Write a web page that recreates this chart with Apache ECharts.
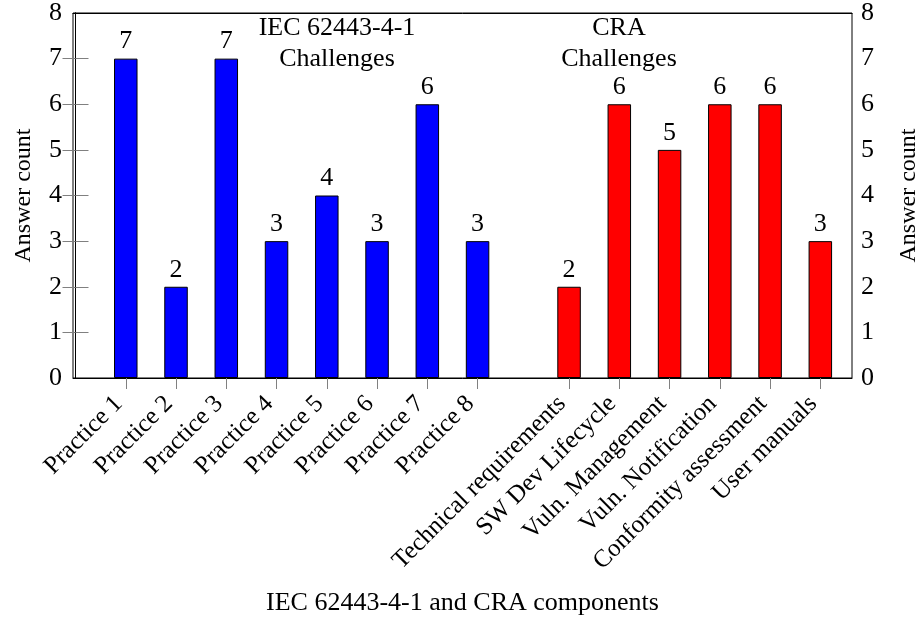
<!DOCTYPE html>
<html>
<head>
<meta charset="utf-8">
<script src="https://cdn.jsdelivr.net/npm/echarts@6/dist/echarts.min.js"></script>
<style>
html,body{margin:0;padding:0;background:#fff;}
#chart{width:915px;height:629px;}
</style>
</head>
<body>
<div id="chart"></div>
<script>
// ---- data ----
const iecCategories = ['Practice 1','Practice 2','Practice 3','Practice 4','Practice 5','Practice 6','Practice 7','Practice 8'];
const iecValues = [7, 2, 7, 3, 4, 3, 6, 3];
const craCategories = ['Technical requirements','SW Dev Lifecycle','Vuln. Management','Vuln. Notification','Conformity assessment','User manuals'];
const craValues = [2, 6, 5, 6, 6, 3];
const yTicks = [0, 1, 2, 3, 4, 5, 6, 7, 8];

// ---- layout (slot positions along a numeric x scale) ----
const groupGap = 1.82;
const iecPos = iecCategories.map((_, i) => i + 1);
const craPos = craCategories.map((_, i) => iecCategories.length + groupGap + i);
const allPos = iecPos.concat(craPos);
const allNames = iecCategories.concat(craCategories);

function nameAt(v) {
  let best = 0, bd = Infinity;
  allPos.forEach((p, i) => { const d = Math.abs(p - v); if (d < bd) { bd = d; best = i; } });
  return bd < 0.3 ? allNames[best] : '';
}

const FONT = '"Liberation Serif", "DejaVu Serif", serif';
const FS = 26;
const chart = echarts.init(document.getElementById('chart'), null, {renderer: 'canvas'});

const yAxisCommon = {
  type: 'value', min: yTicks[0], max: yTicks[yTicks.length - 1], interval: 1,
  splitLine: {show: false},
  axisLine: {show: true, lineStyle: {color: '#000', width: 1}},
  axisTick: {show: true, inside: true, length: 13, customValues: yTicks.slice(1, -1), lineStyle: {color: '#808080', width: 1}},
  axisLabel: {fontFamily: FONT, fontSize: FS, color: '#000', customValues: yTicks},
  name: 'Answer count', nameLocation: 'middle', nameRotate: 90,
  nameTextStyle: {fontFamily: FONT, fontSize: 24, color: '#000'}
};

chart.setOption({
  animation: false,
  backgroundColor: '#fff',
  grid: {left: 73, right: 63, top: 13, bottom: 251, show: true, borderColor: '#000', borderWidth: 1,
         containLabel: false, outerBoundsMode: 'none'},
  xAxis: [{
    type: 'value', min: -0.05, max: 15.45,
    splitLine: {show: false},
    axisLine: {show: true, onZero: false, lineStyle: {color: '#000', width: 1}},
    axisTick: {show: true, inside: false, length: 11, customValues: allPos, lineStyle: {color: '#808080', width: 1}},
    axisLabel: {
      customValues: allPos, rotate: 45, margin: 15, padding: [0, 10, 0, 0],
      fontFamily: FONT, fontSize: 25, color: '#000',
      formatter: v => nameAt(v)
    },
    name: 'IEC 62443-4-1 and CRA components', nameLocation: 'middle', nameGap: 212,
    nameTextStyle: {fontFamily: FONT, fontSize: FS, color: '#000'}
  }, {
    type: 'value', min: -0.05, max: 15.45, position: 'top',
    splitLine: {show: false},
    axisLine: {show: true, onZero: false, lineStyle: {color: '#000', width: 1}},
    axisTick: {show: false}, axisLabel: {show: false}
  }],
  yAxis: [
    Object.assign({}, yAxisCommon, {position: 'left', nameGap: 37, axisLabel: Object.assign({}, yAxisCommon.axisLabel, {margin: 11})}),
    Object.assign({}, yAxisCommon, {position: 'right', nameGap: 45, axisLabel: Object.assign({}, yAxisCommon.axisLabel, {margin: 9})})
  ],
  series: [
    {
      name: 'IEC 62443-4-1', type: 'bar', barWidth: 23.5, barGap: '-100%',
      data: iecValues.map((v, i) => [iecPos[i], v]),
      itemStyle: {color: '#0000ff', borderColor: '#000', borderWidth: 1},
      label: {show: true, position: 'top', distance: 4, fontFamily: FONT, fontSize: FS, color: '#000'}
    },
    {
      name: 'CRA', type: 'bar', barWidth: 23.5, barGap: '-100%',
      data: craValues.map((v, i) => [craPos[i], v]),
      itemStyle: {color: '#ff0000', borderColor: '#000', borderWidth: 1},
      label: {show: true, position: 'top', distance: 4, fontFamily: FONT, fontSize: FS, color: '#000'}
    }
  ],
  graphic: [
    {type: 'text', style: {text: 'IEC 62443-4-1\nChallenges', x: 337, y: 13, align: 'center', lineHeight: 31, fontFamily: FONT, fontSize: FS, fill: '#000'}},
    {type: 'text', style: {text: 'CRA\nChallenges', x: 619, y: 13, align: 'center', lineHeight: 31, fontFamily: FONT, fontSize: FS, fill: '#000'}}
  ]
});
</script>
</body>
</html>
